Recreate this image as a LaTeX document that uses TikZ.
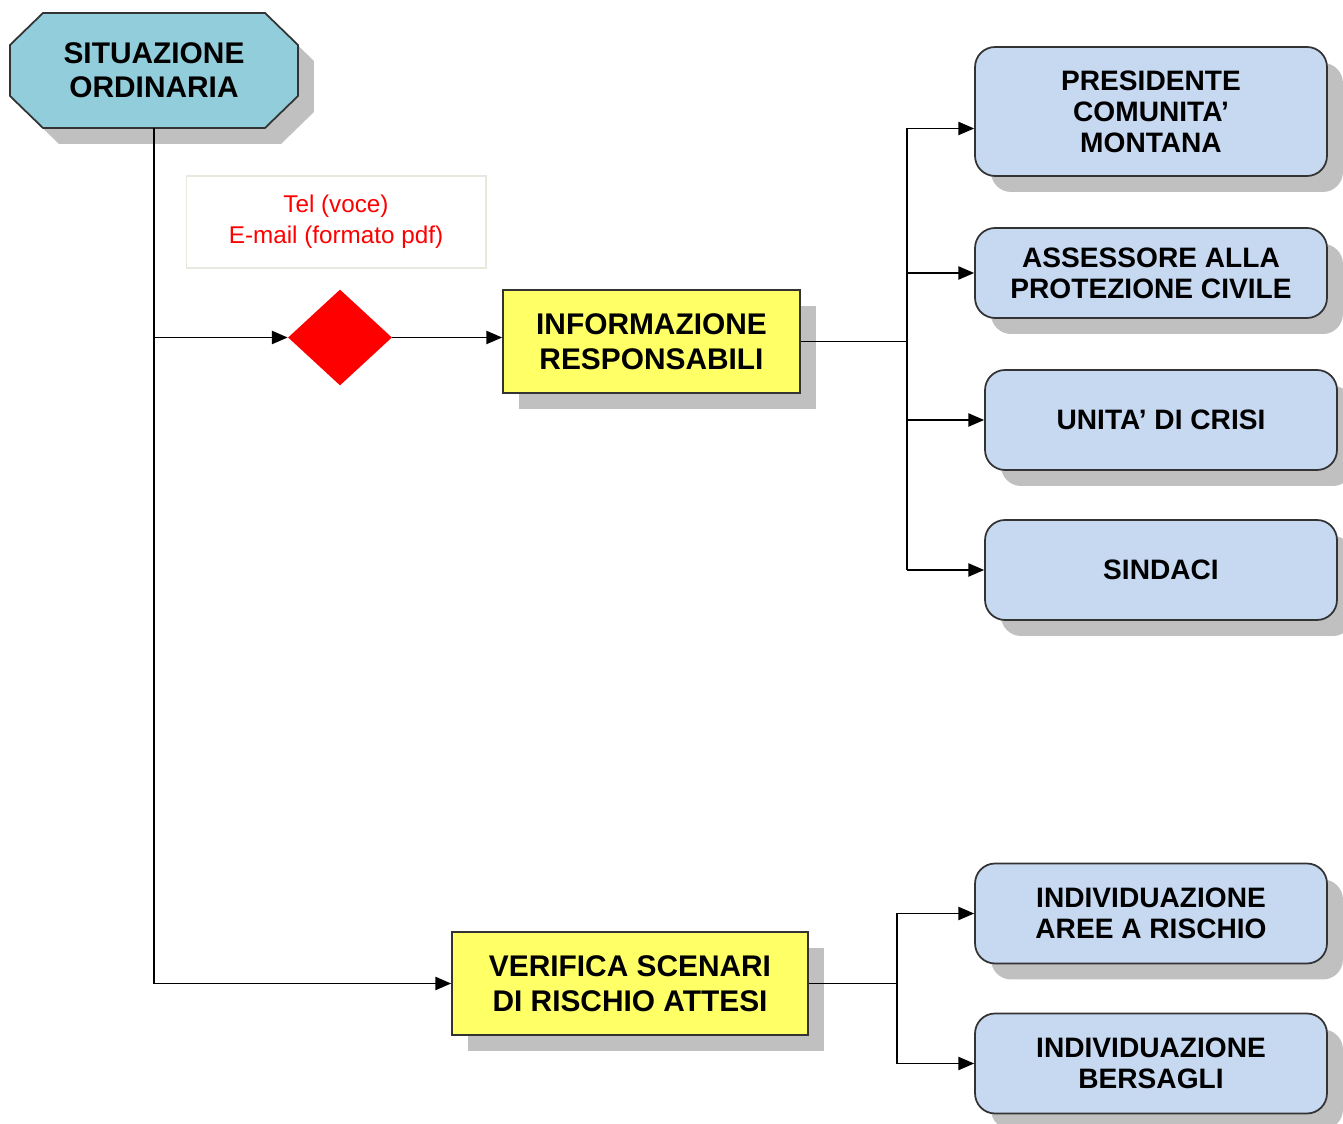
\documentclass[tikz,border=0pt]{standalone}
\usepackage{fontspec}
\setmainfont{Liberation Sans}
\usetikzlibrary{shapes.geometric,shadows,arrows.meta}
\definecolor{octfill}{RGB}{146,205,220}
\definecolor{rolefill}{RGB}{198,217,241}
\definecolor{taskfill}{RGB}{255,255,102}
\definecolor{shadowgray}{RGB}{192,192,192}
\definecolor{noteline}{RGB}{232,232,222}
\definecolor{edgegray}{RGB}{51,51,51}
\begin{document}
\begin{tikzpicture}[x=0.02cm,y=-0.02cm,
  shad/.style={drop shadow={shadow xshift=0.32cm,shadow yshift=-0.32cm,fill=shadowgray,opacity=1}},
  octline/.style={draw=edgegray,line width=1pt,fill=octfill},
  octbox/.style={rectangle,minimum width=5.76cm,minimum height=2.3cm,inner sep=0pt,
    align=center,font=\fontsize{17}{19.3}\selectfont\bfseries},
  taskbox/.style={rectangle,draw=edgegray,line width=1pt,fill=taskfill,minimum height=2.06cm,
    align=center,font=\fontsize{17}{19.8}\selectfont\bfseries},
  rolebox/.style={rectangle,rounded corners=0.4cm,draw=edgegray,line width=1pt,fill=rolefill,
    minimum width=7.04cm,minimum height=2cm,align=center,font=\fontsize{16}{17.6}\selectfont\bfseries},
  notebox/.style={rectangle,draw=noteline,line width=0.6pt,minimum width=6cm,minimum height=1.84cm,
    align=center,text=red,font=\fontsize{13.8}{17.6}\selectfont},
  choice/.style={diamond,fill=red,minimum width=2.08cm,minimum height=1.92cm,inner sep=0pt},
  arr/.style={-{Triangle[length=9pt,width=7.5pt]},line width=1pt}]
\useasboundingbox (0,0) rectangle (1343,1124);
\draw[octline,shad] (43,13) -- (265,13) -- (298,45) -- (298,96) -- (265,128) -- (43,128) -- (10,96) -- (10,45) -- cycle;
\node[octbox] (sit) at (154,70.5) {SITUAZIONE\\ORDINARIA};
\node[notebox] (note) at (336,222) {Tel (voce)\\E-mail (formato pdf)};
\node[choice] (dia) at (340,337.5) {};
\node[taskbox,shad,minimum width=5.94cm] (info) at (651.5,341.5) {INFORMAZIONE\\RESPONSABILI};
\node[rolebox,shad,minimum height=2.58cm] (pres) at (1151,111.5) {PRESIDENTE\\COMUNITA’\\MONTANA};
\node[rolebox,shad,minimum height=1.8cm] (ass) at (1151,273) {ASSESSORE ALLA\\PROTEZIONE CIVILE};
\node[rolebox,shad] (uni) at (1161,420) {UNITA’ DI CRISI};
\node[rolebox,shad] (sin) at (1161,570) {SINDACI};
\node[taskbox,shad,minimum width=7.12cm] (ver) at (630,983.5) {VERIFICA SCENARI\\DI RISCHIO ATTESI};
\node[rolebox,shad] (aree) at (1151,913.5) {INDIVIDUAZIONE\\AREE A RISCHIO};
\node[rolebox,shad] (bers) at (1151,1063.5) {INDIVIDUAZIONE\\BERSAGLI};
\coordinate (bus1) at (907,0);
\coordinate (bus2) at (897,0);
\coordinate (presin) at ([yshift=-0.34cm]pres.west);
\draw[arr] (sit.south) |- (ver.west);
\draw[arr] (sit.south |- dia.west) -- (dia.west);
\draw[arr] (dia.east) -- (dia.east -| info.west);
\draw[line width=1pt] (info.east) -- (bus1 |- info.east);
\draw[line width=1pt] (presin -| bus1) -- (bus1 |- sin.west);
\foreach \t in {presin,ass.west,uni.west,sin.west}
  \draw[arr] (\t -| bus1) -- (\t);
\draw[line width=1pt] (ver.east) -- (bus2 |- ver.east);
\draw[line width=1pt] (bus2 |- aree.west) -- (bus2 |- bers.west);
\foreach \t in {aree,bers}
  \draw[arr] (bus2 |- \t.west) -- (\t.west);
\end{tikzpicture}
\end{document}
